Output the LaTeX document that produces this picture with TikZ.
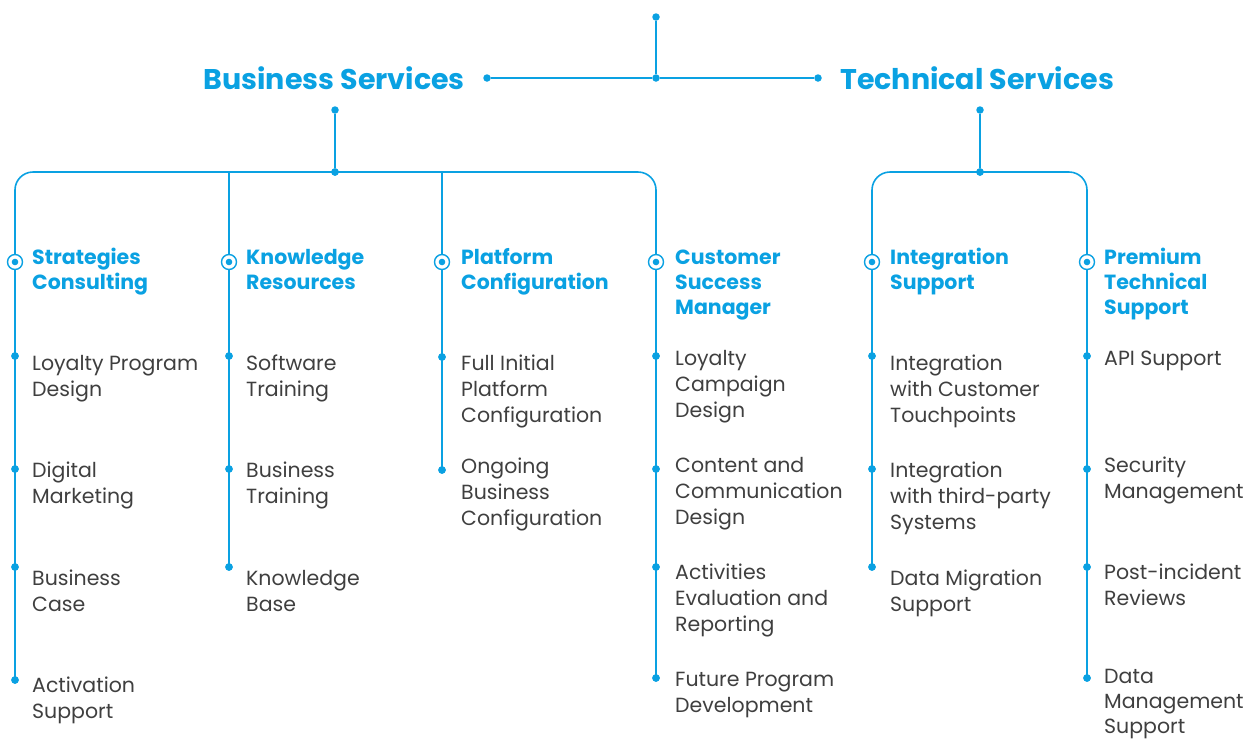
\documentclass[tikz,border=0pt]{standalone}
\usepackage{fontspec}
\setmainfont{Poppins}
\definecolor{brand}{HTML}{0AA1E2}
\definecolor{ink}{HTML}{3F3F3F}
\begin{document}
\begin{tikzpicture}[x=1pt,y=-1pt,
  link/.style={draw=brand, line width=1.6pt},
  dot/.style={circle, fill=brand, inner sep=0pt, minimum size=7.5pt},
  ring/.style={circle, draw=brand, line width=1.4pt, fill=white, inner sep=0pt,
    minimum size=15pt,
    path picture={\fill[brand] (path picture bounding box.center) circle (3.3pt);}},
  title/.style={inner sep=0pt, text=brand, font=\fontsize{28.5}{33}\selectfont\bfseries},
  head/.style={inner sep=0pt, anchor=base west, align=left, text=brand,
    font=\fontsize{20.5}{25}\selectfont\bfseries},
  item/.style={inner sep=0pt, anchor=base west, align=left, text=ink,
    font=\fontsize{20.5}{26}\selectfont},
]
\useasboundingbox (0,0) rectangle (1250,740);

% ---- root connector ----
\node[dot] (top) at (656,17) {};
\node[dot] (hub) at (656,78) {};
\node[dot] (bEnd) at (487,78) {};
\node[dot] (tEnd) at (818,78) {};
\draw[link] (top) -- (hub);
\draw[link] (bEnd) -- (hub) -- (tEnd);

\node[title, anchor=base east] (bs) at (465,89) {Business Services};
\node[title, anchor=base west] (ts) at (840,89) {Technical Services};

% ---- branch stems ----
\node[dot] (bStem) at (335,110) {};
\node[dot] (bJoin) at (335,172) {};
\node[dot] (tStem) at (980,110) {};
\node[dot] (tJoin) at (980,172) {};
\draw[link] (bStem) -- (bJoin);
\draw[link] (tStem) -- (tJoin);

% ---- item dots (column x, row y) ----
% column 1
\node[dot] (a1) at (15,356) {};
\node[dot] (a2) at (15,469) {};
\node[dot] (a3) at (15,567) {};
\node[dot] (a4) at (15,680) {};
% column 2
\node[dot] (b1) at (229,356) {};
\node[dot] (b2) at (229,469) {};
\node[dot] (b3) at (229,567) {};
% column 3
\node[dot] (c1) at (442,357) {};
\node[dot] (c2) at (442,470) {};
% column 4
\node[dot] (d1) at (656,356) {};
\node[dot] (d2) at (656,469) {};
\node[dot] (d3) at (656,567) {};
\node[dot] (d4) at (656,678) {};
% column 5
\node[dot] (e1) at (872,356) {};
\node[dot] (e2) at (872,469) {};
\node[dot] (e3) at (872,567) {};
% column 6
\node[dot] (f1) at (1087,356) {};
\node[dot] (f2) at (1087,469) {};
\node[dot] (f3) at (1087,567) {};
\node[dot] (f4) at (1087,678) {};

% ---- brackets and column lines ----
\draw[link, rounded corners=18pt] (a4.center) |- (bJoin.center) -| (d4.center);
\draw[link] (b3.center) -- (b3.center |- bJoin.center);
\draw[link] (c2.center) -- (c2.center |- bJoin.center);
\draw[link, rounded corners=18pt] (e3.center) |- (tJoin.center) -| (f4.center);

% redraw dots on top of the lines
\foreach \n in {bJoin,tJoin,a1,a2,a3,a4,b1,b2,b3,c1,c2,d1,d2,d3,d4,e1,e2,e3,f1,f2,f3,f4}
  \fill[brand] (\n.center) circle (3.75pt);

% ---- heading rings ----
\node[ring] (ra) at (15,262) {};
\node[ring] (rb) at (229,262) {};
\node[ring] (rc) at (442,262) {};
\node[ring] (rd) at (656,262) {};
\node[ring] (re) at (872,262) {};
\node[ring] (rf) at (1087,262) {};

% ---- headings (anchored on the baseline of their last line) ----
\node[head] (ha) at (32,289)   {Strategies\\Consulting};
\node[head] (hb) at (246,289)  {Knowledge\\Resources};
\node[head] (hc) at (461,289)  {Platform\\Configuration};
\node[head] (hd) at (675,314)  {Customer\\Success\\Manager};
\node[head] (he) at (890,289)  {Integration\\Support};
\node[head] (hf) at (1104,314) {Premium\\Technical\\Support};

% ---- items (anchored on the baseline of their last line) ----
\node[item] (ta1) at (32,396) {Loyalty Program\\Design};
\node[item] (ta2) at (32,503) {Digital\\Marketing};
\node[item] (ta3) at (32,611) {Business\\Case};
\node[item] (ta4) at (32,718) {Activation\\Support};

\node[item] (tb1) at (246,396) {Software\\Training};
\node[item] (tb2) at (246,503) {Business\\Training};
\node[item] (tb3) at (246,611) {Knowledge\\Base};

\node[item] (tc1) at (461,422) {Full Initial\\Platform\\Configuration};
\node[item] (tc2) at (461,525) {Ongoing\\Business\\Configuration};

\node[item] (td1) at (675,417) {Loyalty\\Campaign\\Design};
\node[item] (td2) at (675,524) {Content and\\Communication\\Design};
\node[item] (td3) at (675,631) {Activities\\Evaluation and\\Reporting};
\node[item] (td4) at (675,712) {Future Program\\Development};

\node[item] (te1) at (890,422) {Integration\\with Customer\\Touchpoints};
\node[item] (te2) at (890,529) {Integration\\with third-party\\Systems};
\node[item] (te3) at (890,611) {Data Migration\\Support};

\node[item] (tf1) at (1104,365) {API Support};
\node[item] (tf2) at (1104,498) {Security\\Management};
\node[item] (tf3) at (1104,605) {Post-incident\\Reviews};
\node[item, font=\fontsize{20.5}{25}\selectfont] (tf4) at (1104,733) {Data\\Management\\Support};
\end{tikzpicture}
\end{document}
